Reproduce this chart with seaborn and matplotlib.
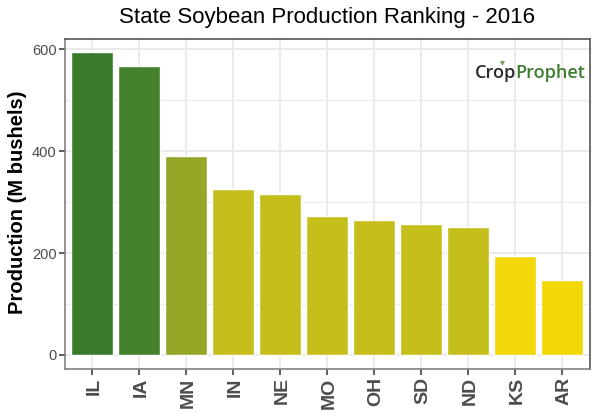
import matplotlib
matplotlib.use('Agg')
import matplotlib.pyplot as plt
from matplotlib.lines import Line2D
from matplotlib.transforms import ScaledTranslation
import seaborn as sns
import pandas as pd

states = ['IL', 'IA', 'MN', 'IN', 'NE', 'MO', 'OH', 'SD', 'ND', 'KS', 'AR']
production = [595, 568, 391, 326, 316, 273, 265, 257, 251, 194, 147]
bar_colors = ['#387C2B', '#46812D', '#96A626', '#C4BF1C', '#C5BF1C', '#C5BF1C',
              '#C5BF1C', '#C5BF1C', '#C5BF1C', '#F2D80A', '#F3D808']
y_ticks = [0, 200, 400, 600]

sns.set_style('white')
plt.rcParams['font.family'] = ['Liberation Sans', 'DejaVu Sans']

df = pd.DataFrame({'state': states, 'production': production})

fig = plt.figure(figsize=(6, 4.2), dpi=100)
ax = fig.add_axes([65 / 600, 1 - 369 / 420, 525 / 600, 330 / 420])

sns.barplot(data=df, x='state', y='production', hue='state', palette=bar_colors,
            width=0.9, legend=False, saturation=1, ax=ax, zorder=3)

ax.set_xlim(-0.58, 10.59)
ax.set_ylim(-27.5, 620.6)
ax.set_yticks(y_ticks)
ax.set_yticks([100, 300, 500], minor=True)

# grid like ggplot theme_bw
ax.set_axisbelow(True)
ax.grid(True, which='major', color='#EBEBEB', lw=1.4)
ax.grid(True, which='minor', axis='y', color='#EBEBEB', lw=0.9)

for name, s in ax.spines.items():
    s.set_visible(True)
    s.set_linewidth(1.2)
    s.set_color('#808080' if name in ('left', 'bottom') else '#555555')

ax.tick_params(axis='y', which='major', length=4, width=1.1, color='#333333',
               labelsize=10.5, labelcolor='#4D4D4D', left=True, pad=2)
ax.tick_params(axis='y', which='minor', length=0)
ax.tick_params(axis='x', length=4, width=1.1, color='#333333', bottom=True, pad=2)
ax.set_xticks(range(len(states)))
ax.set_xticklabels(states, rotation=90, fontsize=14, fontweight='bold', color='#4D4D4D')

# nudge state labels onto the tick centres
nudge = ScaledTranslation(1.5 / 100, 0, fig.dpi_scale_trans)
for lab in ax.get_xticklabels():
    lab.set_transform(lab.get_transform() + nudge)

ax.set_xlabel('')
ax.set_ylabel('Production (M bushels)', fontsize=14.5, fontweight='bold', color='black')
ax.yaxis.set_label_coords(-0.0725, 0.505)
fig.text(327.5 / 600, 1 - 17 / 420, 'State Soybean Production Ranking - 2016',
         ha='center', va='center', fontsize=16, color='black')

# logo
fig.text(475 / 600, 1 - 73 / 420, 'Crop', ha='left', va='center', fontsize=13,
         family='Open Sans', fontweight='semibold', color='#2B2B2B')
fig.text(585 / 600, 1 - 73 / 420, 'Prophet', ha='right', va='center', fontsize=13,
         family='Open Sans', fontweight='semibold', color='#3E7D2C')
fig.add_artist(Line2D([502 / 600], [1 - 63 / 420], marker='v', ms=3.5, mew=0,
                      color='#6E9E5A', transform=fig.transFigure))

fig.savefig('out.png', dpi=100)
